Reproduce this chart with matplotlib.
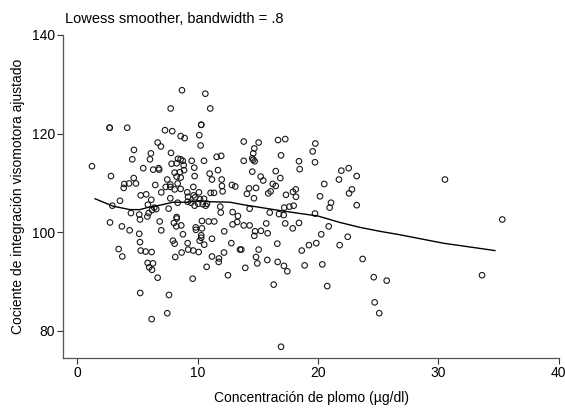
import matplotlib
matplotlib.use("Agg")
import matplotlib.pyplot as plt

# lead concentration (ug/dl)
lead = [
    8.70, 10.64, 7.76, 11.05, 2.69, 2.69, 4.15, 10.30, 10.30, 7.29, 7.89, 8.59, 8.92, 10.14,
    6.68, 6.95, 10.25, 4.71, 6.12, 7.79, 4.57, 6.04, 8.37, 8.59, 8.76, 8.26, 9.51, 10.53,
    11.58, 11.96, 1.22, 5.48, 6.31, 6.76, 6.81, 7.84, 8.84, 8.09, 8.53, 8.87, 9.72, 8.26,
    8.59, 9.75, 11.00, 11.69, 2.80, 4.69, 3.91, 3.86, 4.30, 4.88, 6.48, 7.48, 7.73, 7.35,
    7.73, 8.34, 12.00, 12.02, 12.85, 13.13, 9.64, 6.98, 8.09, 8.59, 9.14, 10.11, 11.08,
    11.36, 12.08, 5.27, 5.73, 6.15, 7.73, 9.20, 9.67, 9.80, 10.20, 10.53, 3.55, 2.91, 5.87,
    6.40, 6.21, 6.56, 7.59, 8.34, 9.17, 9.45, 9.75, 10.05, 10.42, 10.67, 10.78, 11.88,
    11.92, 12.91, 13.35, 4.46, 5.15, 5.82, 8.26, 11.19, 5.21, 5.93, 2.72, 3.71, 4.35, 5.15,
    5.21, 3.44, 3.74, 5.27, 5.68, 6.18, 5.85, 6.29, 5.98, 6.21, 6.68, 5.23, 7.62, 7.48,
    6.18, 6.85, 6.98, 8.03, 8.26, 8.23, 8.64, 8.78, 9.84, 9.86, 10.36, 10.36, 10.92, 11.38,
    10.30, 10.30, 10.17, 10.55, 11.19, 12.21, 12.80, 7.95, 8.09, 9.17, 9.22, 9.64, 10.09,
    8.67, 8.14, 11.19, 11.77, 11.75, 12.19, 10.75, 12.52, 9.59, 13.52, 13.83, 15.07, 16.68,
    17.28, 19.78, 19.56, 14.71, 14.62, 14.54, 14.74, 14.62, 13.83, 16.93, 18.42, 19.75,
    18.48, 14.54, 16.49, 15.24, 15.45, 16.87, 21.94, 22.55, 23.22, 21.74, 20.52, 22.82,
    22.58, 20.17, 16.24, 16.49, 16.07, 15.87, 14.27, 14.85, 14.10, 14.68, 17.34, 17.92,
    18.15, 18.17, 17.20, 17.62, 17.98, 14.32, 15.99, 16.76, 17.15, 19.75, 20.97, 21.08,
    23.22, 12.91, 13.29, 13.83, 14.32, 14.77, 14.71, 15.26, 15.70, 15.82, 17.28, 17.90,
    18.42, 13.63, 15.07, 16.62, 18.65, 19.25, 19.86, 20.27, 20.89, 21.80, 22.47, 23.71,
    13.96, 14.85, 14.96, 15.79, 16.65, 17.17, 17.45, 16.32, 18.89, 20.36, 20.77, 24.63,
    24.71, 25.09, 16.93, 30.55, 35.31, 25.71, 33.63,
]

# adjusted visual-motor integration quotient
quotient = [
    128.8, 128.1, 125.1, 125.1, 121.2, 121.2, 121.2, 121.8, 121.8, 120.7, 120.5, 119.5,
    119.1, 119.7, 118.2, 117.4, 117.6, 116.7, 116.0, 116.1, 114.8, 114.8, 114.9, 114.8,
    114.5, 114.0, 114.5, 114.5, 115.3, 115.5, 113.4, 113.0, 112.7, 113.0, 112.7, 113.9,
    113.6, 112.1, 112.2, 112.6, 113.1, 111.3, 111.1, 111.4, 111.9, 112.6, 111.4, 111.0,
    109.8, 109.0, 109.9, 109.9, 109.6, 110.7, 109.7, 109.2, 109.2, 109.9, 110.7, 109.4,
    109.6, 109.3, 109.2, 108.1, 108.7, 108.8, 108.1, 108.1, 108.0, 108.0, 108.3, 107.5,
    107.7, 106.6, 106.9, 107.2, 107.5, 107.1, 106.7, 106.8, 106.4, 105.4, 105.6, 105.0,
    104.5, 104.7, 104.8, 106.0, 106.2, 106.0, 105.4, 105.8, 105.7, 105.4, 105.8, 105.2,
    104.0, 104.1, 103.3, 103.9, 103.6, 103.2, 103.1, 110.7, 102.6, 103.9, 102.0, 101.2,
    100.4, 99.7, 98.0, 96.6, 95.1, 96.3, 96.1, 96.0, 93.8, 93.7, 92.9, 92.4, 90.8, 87.7,
    87.3, 83.6, 82.4, 102.2, 100.4, 101.9, 102.8, 101.2, 101.4, 99.6, 101.0, 100.5, 102.3,
    100.8, 102.2, 102.2, 99.4, 98.9, 98.3, 97.5, 98.7, 100.2, 97.8, 98.3, 97.7, 97.8, 96.5,
    96.3, 96.0, 95.9, 95.0, 95.1, 94.7, 94.0, 95.9, 93.0, 91.3, 90.6, 96.5, 118.4, 118.2,
    118.7, 118.9, 118.0, 116.4, 117.0, 116.0, 115.0, 114.4, 114.7, 114.5, 115.6, 114.4,
    114.2, 112.8, 112.3, 112.4, 111.3, 110.5, 111.0, 112.5, 113.0, 111.4, 110.7, 109.8,
    108.7, 107.9, 107.3, 109.8, 109.4, 108.3, 107.9, 108.9, 109.0, 107.8, 106.9, 107.6,
    108.2, 108.7, 107.2, 105.0, 105.2, 105.4, 104.8, 104.0, 103.7, 103.5, 103.8, 105.0,
    106.0, 105.5, 101.6, 102.1, 101.4, 101.4, 100.2, 99.3, 100.3, 101.8, 99.8, 101.8,
    100.8, 101.9, 96.5, 96.5, 97.7, 96.3, 97.4, 97.8, 99.6, 101.2, 97.4, 99.1, 94.6, 92.8,
    95.0, 93.7, 94.4, 94.0, 93.2, 92.1, 89.4, 93.3, 93.5, 89.1, 90.9, 85.8, 83.6, 76.8,
    110.7, 102.6, 90.2, 91.3,
]

# lowess curve (bandwidth .8)
smooth_x = [1.48, 2.97, 4.38, 5.21, 5.79, 6.87, 7.95, 9.11, 10.2, 11.03, 12.69, 13.77,
            17.12, 20.0, 21.82, 23.49, 25.15, 26.81, 30.39, 34.7]
smooth_y = [106.8, 105.3, 104.6, 104.6, 105.0, 105.5, 106.1, 106.1, 106.4, 106.2, 106.1,
            105.6, 104.3, 103.3, 102.0, 101.0, 100.2, 99.5, 97.8, 96.3]

xticks = [0, 10, 20, 30, 40]
yticks = [80, 100, 120, 140]

plt.rcParams['font.family'] = ['Liberation Sans', 'DejaVu Sans']

fig = plt.figure(figsize=(5.65, 4.09), dpi=100)
ax = fig.add_axes([63.3 / 565, 1 - 357.5 / 409, (558.7 - 63.3) / 565, (357.5 - 35) / 409])

ax.scatter(lead, quotient, s=16, facecolors='none', edgecolors='#1a1a1a', linewidths=0.8, zorder=2)
ax.plot(smooth_x, smooth_y, color='black', lw=1.0, zorder=3)

ax.set_xlim(-1.16, 40)
ax.set_ylim(74.62, 140)
ax.set_xticks(xticks)
ax.set_yticks(yticks)
ax.tick_params(length=4, width=0.8, color='#333333', labelsize=10, pad=2)

for side in ['top', 'right']:
    ax.spines[side].set_visible(False)
for side in ['left', 'bottom']:
    ax.spines[side].set_color('#555555')
    ax.spines[side].set_linewidth(0.9)

ax.set_xlabel('Concentración de plomo (µg/dl)', fontsize=10, labelpad=8)
ax.set_ylabel('Cociente de integración visomotora ajustado', fontsize=10, labelpad=5)

fig.text(65 / 565, 1 - 19 / 409, 'Lowess smoother, bandwidth = .8', fontsize=10.5, va='center', ha='left')

fig.savefig('out.png', dpi=100)
